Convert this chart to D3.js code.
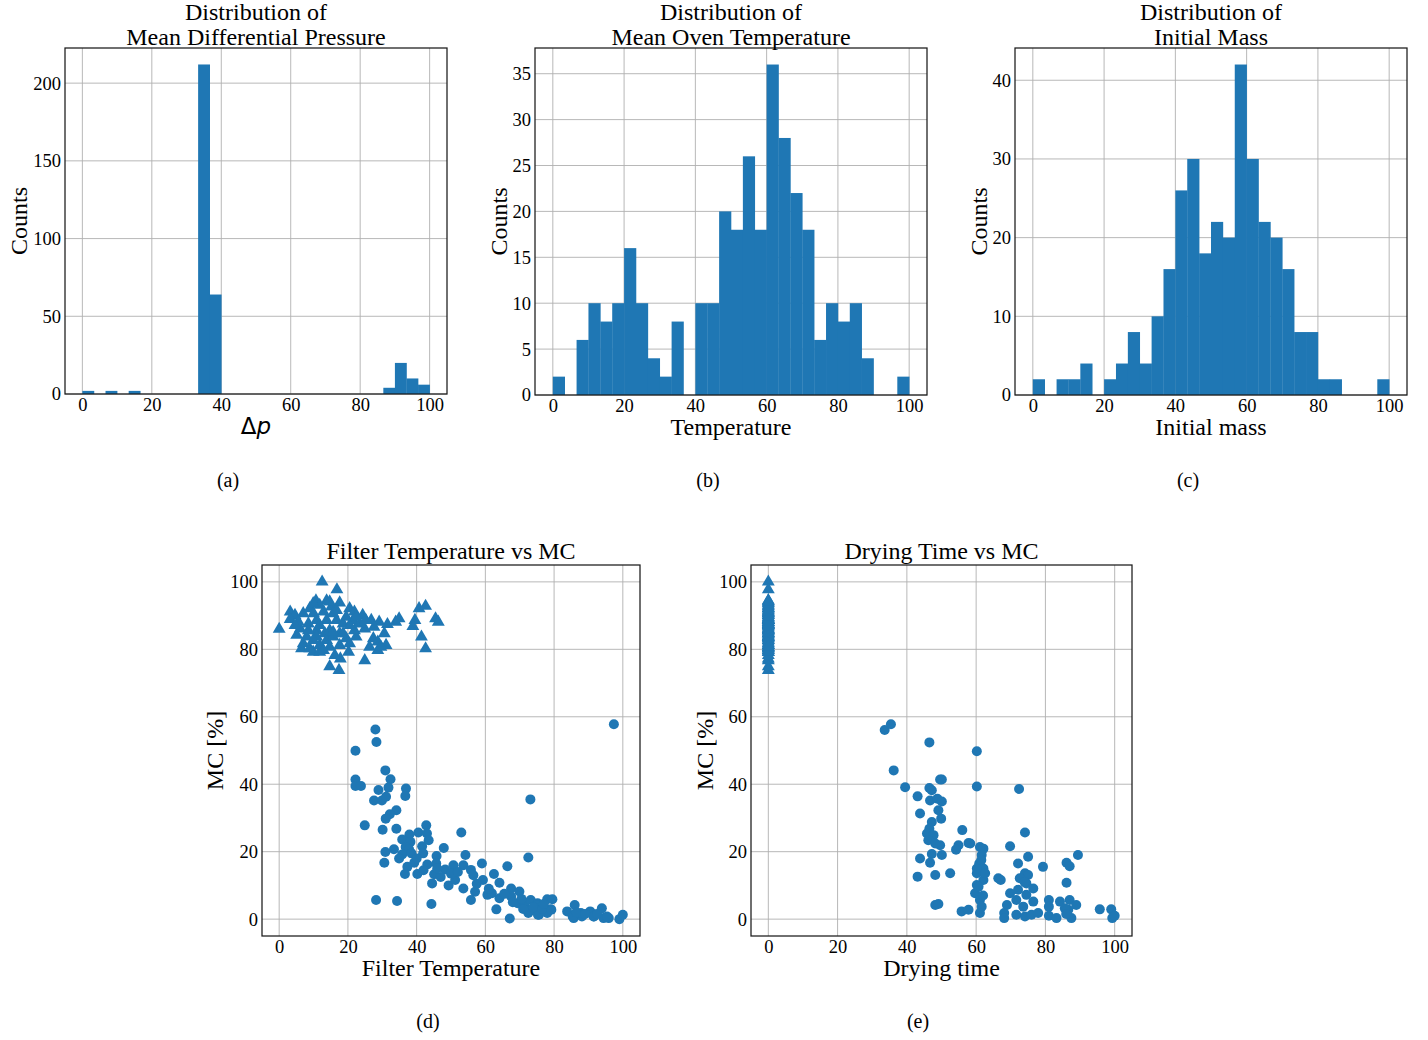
<!DOCTYPE html>
<html>
<head>
<meta charset="utf-8">
<script src="https://cdn.jsdelivr.net/npm/d3@7"></script>
<style>
  body { margin: 0; background: #fff; }
  svg text { font-family: 'Liberation Serif', 'Times New Roman', serif; fill: #000; }
  svg .tick text { font-family: 'Liberation Serif', 'Times New Roman', serif !important; font-size: 18.5px !important; }
</style>
</head>
<body>
<svg id="chart" width="1428" height="1040"></svg>
<script>
// histogram bins: 30 equal bins over 0..100
const binCount = 30;
const binEdges = d3.range(binCount + 1).map(i => i * 100 / binCount);

const pressureCounts = [2, 0, 2, 0, 2, 0, 0, 0, 0, 0, 212, 64, 0, 0, 0, 0, 0, 0, 0, 0, 0, 0, 0, 0, 0, 0, 4, 20, 10, 6];
const ovenCounts = [2, 0, 6, 10, 8, 10, 16, 10, 4, 2, 8, 0, 10, 10, 20, 18, 26, 18, 36, 28, 22, 18, 6, 10, 8, 10, 4, 0, 0, 2];
const massCounts = [2, 0, 2, 2, 4, 0, 2, 4, 8, 4, 10, 16, 26, 30, 18, 22, 20, 42, 30, 22, 20, 16, 8, 8, 2, 2, 0, 0, 0, 2];

const xTicks = [0, 20, 40, 60, 80, 100];
const pressureTicks = [0, 50, 100, 150, 200];
const ovenTicks = [0, 5, 10, 15, 20, 25, 30, 35];
const massTicks = [0, 10, 20, 30, 40];
const mcTicks = [0, 20, 40, 60, 80, 100];

// samples with no drying (triangles): filter temperature and MC
const triFilterTemp = [12.5, 16.8, 17.6, 10.7, 13.8, 15.2, 3.2, 4.6, 0, 3.2, 7.0, 8.9, 20.5, 21.9, 24.3, 26.8, 29.1, 31.5, 33.9, 34.9,
  40.7, 42.6, 39.5, 38.9, 45.5, 46.3, 41.4, 42.6, 30.6, 27.4, 26.3, 28.7, 31.1, 28.7, 24.9, 20.2, 17.8, 14.7, 17.4, 16.2,
  6.5, 9.9, 11.8, 5.1, 6.1, 8.0, 10.9, 13.3, 13.8, 15.7, 17.6, 19.5, 22.4, 21.9, 24.9, 7.0, 8.9, 11.8, 14.7, 17.6,
  10.9, 13.8, 16.7, 18.6, 10.0, 12.9, 15.7, 19.5, 21.5, 8.5, 5.6, 4.6, 14.7, 11.8, 8.5, 15.7, 18.6, 23.4, 10.9, 9.9,
  12.9, 20.5, 29.6, 27.6, 25.2, 20.5, 22.4, 16.7, 11.8, 9.9, 14.7];
const triMC = [100, 97.7, 93.8, 94.4, 94.4, 92.6, 91.1, 90.1, 86, 88.9, 90.6, 92.1, 92.1, 91.1, 90.1, 88.6, 88.1, 87.4, 88.1, 89.1,
  92.1, 92.8, 88.6, 86.8, 89.1, 88.1, 83.7, 80.2, 84.7, 83.2, 80.7, 79.7, 81.2, 82.2, 76.7, 79.2, 77.2, 74.9, 73.8, 78.2,
  80.2, 79.2, 79.2, 84.2, 86.1, 83.7, 85.6, 84.7, 82.7, 83.7, 84.7, 83.2, 83.7, 85.6, 86.1, 81.7, 80.2, 81.2, 80.7, 81.2,
  88.6, 88.6, 88.6, 87.6, 90.6, 91.1, 90.6, 89.6, 88.6, 87.6, 88.1, 87.1, 85.6, 87.1, 85.6, 85.1, 84.7, 87.6, 83.7, 82.7,
  79.7, 81.7, 80.7, 86.6, 88.6, 87.1, 89.6, 91.6, 93.1, 93.6, 94.1];

// dried samples: [filter temperature, MC]
const filterCircles = [
  [97.4, 57.8], [28.0, 56.2], [28.3, 52.5], [22.2, 49.9], [22.2, 41.4], [22.2, 39.5], [23.8, 39.5], [30.9, 44.1],
  [32.4, 41.5], [31.8, 39.0], [28.9, 38.3], [36.9, 38.7], [36.7, 36.5], [27.6, 35.2], [29.9, 35.2], [31.1, 36.3],
  [34.1, 32.3], [32.2, 31.1], [31.0, 29.8], [24.9, 27.8], [30.1, 26.5], [34.1, 26.8], [42.8, 27.8], [40.5, 25.7],
  [37.9, 25.1], [43.0, 25.4], [35.8, 23.6], [38.2, 22.9], [43.5, 23.4], [53.0, 25.7], [30.9, 19.9], [33.4, 20.7],
  [36.8, 21.4], [37.8, 20.7], [35.8, 19.2], [41.6, 21.6], [41.9, 19.5], [34.9, 18.0], [30.6, 16.7], [47.9, 21.1],
  [45.8, 18.7], [43.1, 16.2], [45.7, 16.5], [39.3, 16.7], [37.3, 15.5], [36.6, 13.4], [40.2, 13.4], [45.1, 13.3],
  [44.5, 10.6], [48.3, 14.7], [50.7, 16.0], [54.2, 19.0], [53.6, 16.0], [55.8, 14.6], [59.0, 16.5], [59.3, 11.6],
  [62.5, 13.4], [66.4, 15.7], [72.5, 18.3], [73.1, 35.5], [49.3, 10.0], [51.2, 11.6], [53.6, 9.1], [57.0, 8.1],
  [55.8, 5.7], [60.6, 7.2], [61.9, 7.7], [64.1, 10.8], [64.1, 6.2], [63.2, 2.9], [67.1, 0.2], [67.5, 9.1],
  [69.9, 8.2], [67.5, 6.7], [69.4, 4.7], [71.3, 4.2], [73.2, 5.7], [75.2, 4.7], [73.2, 2.8], [75.6, 1.3],
  [78.0, 5.9], [79.5, 5.9], [79.0, 2.9], [78.0, 1.8], [28.2, 5.7], [34.3, 5.4], [44.3, 4.5], [83.8, 2.3],
  [86.0, 4.2], [85.7, 0.3], [88.1, 0.8], [90.5, 2.3], [91.5, 0.8], [93.9, 3.2], [94.4, 0.3], [95.9, 0.3],
  [99.0, 0.0], [100.0, 1.3], [75.3, 4.2], [72.5, 1.8], [75.3, 1.3], [79.2, 2.8], [87.8, 1.8], [90.7, 1.8],
  [91.6, 0.8], [95.4, 0.8], [85.4, 0.8], [38.5, 19.5], [40.0, 18.0], [47.0, 12.5], [50.0, 13.5], [52.0, 14.0],
  [57.5, 10.5], [61.0, 9.0], [65.5, 7.5], [70.5, 6.0], [74.0, 3.5], [76.5, 3.0], [77.0, 4.5], [71.0, 3.0],
  [42.0, 14.5], [46.0, 15.0], [56.5, 13.0], [68.0, 5.0], [86.5, 2.0], [89.0, 1.5], [92.5, 1.5]
];

// dried samples: [drying time, MC]
const dryingCircles = [
  [33.6, 56.1], [35.4, 57.8], [36.2, 44.1], [46.5, 52.4], [60.2, 49.8], [60.2, 39.3], [39.5, 39.1], [72.4, 38.6],
  [43.1, 36.4], [46.5, 38.9], [47.2, 38.2], [49.6, 41.4], [50.1, 41.4], [46.7, 35.2], [48.8, 35.7], [50.1, 34.9],
  [49.1, 32.3], [43.8, 31.3], [49.9, 29.8], [47.2, 28.8], [46.5, 26.8], [45.8, 25.4], [47.7, 24.9], [46.2, 23.4],
  [49.6, 21.9], [48.2, 22.4], [56.0, 26.4], [54.9, 21.9], [54.2, 20.6], [57.8, 22.6], [74.1, 25.7], [69.8, 21.6],
  [43.8, 18.0], [47.2, 19.3], [46.7, 16.7], [50.1, 19.0], [43.1, 12.6], [48.2, 13.1], [52.5, 13.6], [61.1, 21.4],
  [62.1, 20.9], [61.6, 19.0], [60.9, 16.5], [62.1, 15.0], [60.2, 13.6], [62.1, 11.6], [60.2, 10.1], [59.7, 7.7],
  [61.1, 5.7], [61.6, 3.7], [61.1, 1.8], [60.2, 15.0], [62.6, 13.6], [60.7, 9.6], [58.3, 22.4], [48.2, 4.2],
  [49.1, 4.5], [55.8, 2.3], [57.8, 2.8], [66.4, 12.1], [67.1, 11.6], [69.8, 7.7], [68.9, 4.2], [68.1, 1.8],
  [68.1, 0.3], [72.1, 16.5], [75.0, 18.5], [74.1, 13.6], [75.0, 13.1], [72.6, 12.1], [74.5, 10.6], [76.5, 9.1],
  [72.1, 8.7], [71.6, 5.7], [74.5, 7.2], [76.5, 5.2], [73.6, 3.7], [71.6, 1.3], [74.1, 0.8], [76.0, 1.3],
  [77.9, 1.8], [79.3, 15.5], [89.4, 19.0], [86.1, 16.7], [87.0, 15.7], [86.1, 10.8], [81.0, 5.7], [81.0, 3.7],
  [81.0, 1.0], [83.2, 0.3], [84.2, 5.2], [87.0, 5.7], [88.9, 4.2], [86.6, 2.8], [87.5, 0.3], [85.6, 3.2],
  [95.7, 2.9], [99.0, 2.9], [99.3, 0.3], [100.0, 1.0], [61.5, 17.5], [62.0, 7.0], [74.0, 11.0], [86.0, 1.5]
];

const blue = '#1f77b4';
const serif = "'Liberation Serif', 'Times New Roman', serif";
const svg = d3.select('#chart');

function styleTicks(a) {
  a.select('.domain').remove();
  a.attr('font-family', serif).attr('font-size', 18.5);
  a.selectAll('text')
    .attr('font-family', serif)
    .style('fill', '#000');
}

function makeAxes(box, yDomain, yTicks) {
  const g = svg.append('g');
  const x = d3.scaleLinear().domain([-5, 105]).range([box.left, box.right]);
  const y = d3.scaleLinear().domain(yDomain).range([box.bottom, box.top]);

  const grid = g.append('g');
  grid.selectAll('.gx')
    .data(xTicks)
    .enter()
    .append('line')
      .attr('x1', d => x(d)).attr('x2', d => x(d))
      .attr('y1', box.top).attr('y2', box.bottom)
      .attr('stroke', '#b0b0b0')
      .attr('stroke-width', 0.9);
  grid.selectAll('.gy')
    .data(yTicks)
    .enter()
    .append('line')
      .attr('x1', box.left).attr('x2', box.right)
      .attr('y1', d => y(d)).attr('y2', d => y(d))
      .attr('stroke', '#b0b0b0')
      .attr('stroke-width', 0.9);

  const marks = g.append('g');

  g.append('g')
    .attr('transform', `translate(0,${box.bottom})`)
    .call(d3.axisBottom(x).tickValues(xTicks).tickSize(0).tickPadding(4))
    .call(styleTicks);

  g.append('g')
    .attr('transform', `translate(${box.left},0)`)
    .call(d3.axisLeft(y).tickValues(yTicks).tickSize(0).tickPadding(4))
    .call(styleTicks);

  g.append('rect')
    .attr('x', box.left)
    .attr('y', box.top)
    .attr('width', box.right - box.left)
    .attr('height', box.bottom - box.top)
    .attr('fill', 'none')
    .attr('stroke', '#1a1a1a')
    .attr('stroke-width', 1.25);

  return { g, marks, x, y };
}

function addText(x, y, size, str) {
  return svg.append('text')
    .attr('x', x)
    .attr('y', y)
    .attr('text-anchor', 'middle')
    .style('font-family', serif)
    .style('font-size', `${size}px`)
    .text(str);
}

function labels(box, titleLines, titleBase, yLabel, yLabelX, caption, captionX, captionY) {
  const cx = (box.left + box.right) / 2;
  titleLines.forEach((t, i) => addText(cx, titleBase + i * 24.5, 24, t));
  svg.append('text')
    .attr('transform', `translate(${yLabelX},${(box.top + box.bottom) / 2})rotate(-90)`)
    .attr('text-anchor', 'middle')
    .style('font-family', serif)
    .style('font-size', '24px')
    .text(yLabel);
  addText(captionX, captionY, 20, caption);
}

function histogram(box, counts, yTicks, titleLines, xLabel, caption, captionX, yLabelX) {
  const { g, marks, x, y } = makeAxes(box, [0, d3.max(counts) * 1.05], yTicks);
  marks.selectAll('.bar')
    .data(counts)
    .enter()
    .append('rect')
      .attr('class', 'bar')
      .attr('x', (d, i) => x(binEdges[i]))
      .attr('width', (d, i) => x(binEdges[i + 1]) - x(binEdges[i]) + 0.3)
      .attr('y', d => y(d))
      .attr('height', d => y(0) - y(d))
      .attr('fill', blue);
  labels(box, titleLines, 20, 'Counts', yLabelX, caption, captionX, 487);
  if (xLabel) addText((box.left + box.right) / 2, 435, 24, xLabel);
  return g;
}

// (a)
const boxA = { left: 65, top: 48, right: 447, bottom: 394 };
histogram(boxA, pressureCounts, pressureTicks, ['Distribution of', 'Mean Differential Pressure'], null, '(a)', 228, 27);
const dp = svg.append('text')
  .attr('x', (boxA.left + boxA.right) / 2)
  .attr('y', 434)
  .attr('text-anchor', 'middle')
  .style('font-family', "'DejaVu Sans', sans-serif")
  .style('font-size', '23px');
dp.append('tspan').text('\u0394');
dp.append('tspan').style('font-style', 'italic').text('p');

// (b)
histogram({ left: 535, top: 48, right: 927, bottom: 395 }, ovenCounts, ovenTicks,
  ['Distribution of', 'Mean Oven Temperature'], 'Temperature', '(b)', 708, 507);

// (c)
histogram({ left: 1015, top: 48, right: 1407, bottom: 395 }, massCounts, massTicks,
  ['Distribution of', 'Initial Mass'], 'Initial mass', '(c)', 1188, 987);

function scatter(box, triangles, circles, title, xLabel, caption, captionX, yLabelX) {
  const { marks, x, y } = makeAxes(box, [-5, 105], mcTicks);
  marks.selectAll('.tri')
    .data(triangles)
    .enter()
    .append('path')
      .attr('class', 'tri')
      .attr('d', d3.symbol().type(d3.symbolTriangle).size(72))
      .attr('transform', d => `translate(${x(d[0])},${y(d[1])})`)
      .attr('fill', blue);
  marks.selectAll('.dot')
    .data(circles)
    .enter()
    .append('circle')
      .attr('class', 'dot')
      .attr('cx', d => x(d[0]))
      .attr('cy', d => y(d[1]))
      .attr('r', 5)
      .attr('fill', blue);
  labels(box, [title], 559, 'MC [%]', yLabelX, caption, captionX, 1028);
  addText((box.left + box.right) / 2, 976, 24, xLabel);
}

const filterTriangles = triFilterTemp.map((t, i) => [t, triMC[i]]);
const dryingTriangles = triMC.map(mc => [0, mc]);

// (d)
scatter({ left: 262, top: 565, right: 640, bottom: 936 }, filterTriangles, filterCircles,
  'Filter Temperature vs MC', 'Filter Temperature', '(d)', 428, 223);

// (e)
scatter({ left: 751, top: 565, right: 1132, bottom: 936 }, dryingTriangles, dryingCircles,
  'Drying Time vs MC', 'Drying time', '(e)', 918, 713);
</script>
</body>
</html>
